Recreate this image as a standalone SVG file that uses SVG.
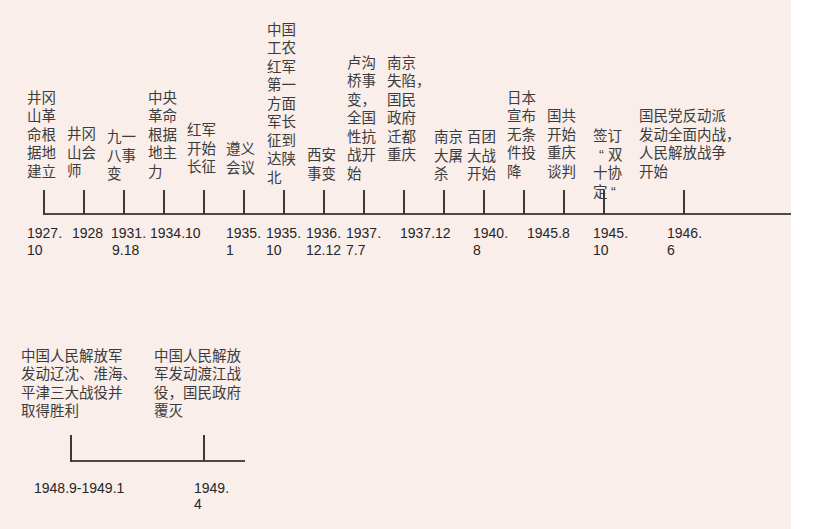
<svg xmlns="http://www.w3.org/2000/svg" width="820" height="529" viewBox="0 0 820 529">
<style>
.bg{fill:#f9eeea}
.lbl{font-family:"Liberation Sans","Noto Sans CJK SC","Noto Sans CJK TC",sans-serif;font-size:14.5px;fill:#3c3c3c}
.dt{font-family:"Liberation Sans",Arial,sans-serif;font-size:14px;fill:#262626}
.tick{stroke:#3a3a3a;stroke-width:2;fill:none}
.axis{stroke:#4a4a4a;stroke-width:2;fill:none}
</style>
<rect x="0" y="0" width="820" height="529" fill="#ffffff"/>
<rect class="bg" x="0" y="0" width="791" height="529"/>

<g id="connectors">
<line class="axis" x1="43" y1="214" x2="791" y2="214"/>
<line class="axis" x1="70" y1="461" x2="245" y2="461"/>
</g>

<g id="e1927">
<text class="lbl"><tspan x="27" y="102.5">井冈</tspan><tspan x="27" y="121">山革</tspan><tspan x="27" y="139.5">命根</tspan><tspan x="27" y="158">据地</tspan><tspan x="27" y="176.5">建立</tspan></text>
<line class="tick" x1="44" y1="190" x2="44" y2="215"/>
<text class="dt"><tspan x="27" y="238">1927.</tspan><tspan x="27" y="255">10</tspan></text>
</g>
<g id="e1928">
<text class="lbl"><tspan x="67" y="139">井冈</tspan><tspan x="67" y="157.5">山会</tspan><tspan x="67" y="176">师</tspan></text>
<line class="tick" x1="84" y1="190" x2="84" y2="214"/>
<text class="dt"><tspan x="72" y="238">1928</tspan></text>
</g>
<g id="e1931">
<text class="lbl"><tspan x="107" y="142">九一</tspan><tspan x="107" y="160.5">八事</tspan><tspan x="107" y="179">变</tspan></text>
<line class="tick" x1="124" y1="190" x2="124" y2="214"/>
<text class="dt"><tspan x="111" y="238">1931.</tspan><tspan x="112" y="255">9.18</tspan></text>
</g>
<g id="e1934">
<text class="lbl"><tspan x="148" y="102.5">中央</tspan><tspan x="148" y="121">革命</tspan><tspan x="148" y="139.5">根据</tspan><tspan x="148" y="158">地主</tspan><tspan x="148" y="176.5">力</tspan></text>
<line class="tick" x1="164" y1="190" x2="164" y2="214"/>
<text class="dt"><tspan x="150" y="238">1934.10</tspan></text>
</g>
<g id="e1934b">
<text class="lbl"><tspan x="187" y="135">红军</tspan><tspan x="187" y="153.5">开始</tspan><tspan x="187" y="172">长征</tspan></text>
<line class="tick" x1="204" y1="190" x2="204" y2="214"/>
</g>
<g id="e1935a">
<text class="lbl"><tspan x="226" y="154">遵义</tspan><tspan x="226" y="172.5">会议</tspan></text>
<line class="tick" x1="244" y1="190" x2="244" y2="214"/>
<text class="dt"><tspan x="226" y="238">1935.</tspan><tspan x="226" y="255">1</tspan></text>
</g>
<g id="e1935b">
<text class="lbl"><tspan x="267" y="34.5">中国</tspan><tspan x="267" y="53">工农</tspan><tspan x="267" y="71.5">红军</tspan><tspan x="267" y="90">第一</tspan><tspan x="267" y="108.5">方面</tspan><tspan x="267" y="127">军长</tspan><tspan x="267" y="145.5">征到</tspan><tspan x="267" y="164">达陕</tspan><tspan x="267" y="182.5">北</tspan></text>
<line class="tick" x1="284" y1="190" x2="284" y2="214"/>
<text class="dt"><tspan x="266" y="238">1935.</tspan><tspan x="266" y="255">10</tspan></text>
</g>
<g id="e1936">
<text class="lbl"><tspan x="307" y="160">西安</tspan><tspan x="307" y="178.5">事变</tspan></text>
<line class="tick" x1="324" y1="190" x2="324" y2="214"/>
<text class="dt"><tspan x="306" y="238">1936.</tspan><tspan x="306" y="255">12.12</tspan></text>
</g>
<g id="e1937a">
<text class="lbl"><tspan x="347" y="67.5">卢沟</tspan><tspan x="347" y="86">桥事</tspan><tspan x="347" y="104.5">变，</tspan><tspan x="347" y="123">全国</tspan><tspan x="347" y="141.5">性抗</tspan><tspan x="347" y="160">战开</tspan><tspan x="347" y="178.5">始</tspan></text>
<line class="tick" x1="364" y1="190" x2="364" y2="214"/>
<text class="dt"><tspan x="346" y="238">1937.</tspan><tspan x="346" y="255">7.7</tspan></text>
</g>
<g id="e1937b">
<text class="lbl"><tspan x="387" y="67.5">南京</tspan><tspan x="387" y="86">失陷，</tspan><tspan x="387" y="104.5">国民</tspan><tspan x="387" y="123">政府</tspan><tspan x="387" y="141.5">迁都</tspan><tspan x="387" y="160">重庆</tspan></text>
<line class="tick" x1="404" y1="190" x2="404" y2="214"/>
<text class="dt"><tspan x="400" y="238">1937.12</tspan></text>
</g>
<g id="e1937c">
<text class="lbl"><tspan x="434" y="142">南京</tspan><tspan x="434" y="160.5">大屠</tspan><tspan x="434" y="179">杀</tspan></text>
<line class="tick" x1="444" y1="190" x2="444" y2="214"/>
</g>
<g id="e1940">
<text class="lbl"><tspan x="467" y="142">百团</tspan><tspan x="467" y="160.5">大战</tspan><tspan x="467" y="179">开始</tspan></text>
<line class="tick" x1="484" y1="190" x2="484" y2="214"/>
<text class="dt"><tspan x="473" y="238">1940.</tspan><tspan x="473" y="255">8</tspan></text>
</g>
<g id="e1945a">
<text class="lbl"><tspan x="507" y="102.5">日本</tspan><tspan x="507" y="121">宣布</tspan><tspan x="507" y="139.5">无条</tspan><tspan x="507" y="158">件投</tspan><tspan x="507" y="176.5">降</tspan></text>
<line class="tick" x1="524" y1="190" x2="524" y2="214"/>
<text class="dt"><tspan x="527" y="238">1945.8</tspan></text>
</g>
<g id="e1945b">
<text class="lbl"><tspan x="547" y="121">国共</tspan><tspan x="547" y="139.5">开始</tspan><tspan x="547" y="158">重庆</tspan><tspan x="547" y="176.5">谈判</tspan></text>
<line class="tick" x1="564" y1="190" x2="564" y2="214"/>
</g>
<g id="e1945c">
<text class="lbl"><tspan x="593" y="141">签订</tspan><tspan x="599" y="159.5">“</tspan><tspan x="608" y="159.5">双</tspan><tspan x="593" y="178">十协</tspan><tspan x="593" y="196.5">定</tspan><tspan x="611" y="196.5">“</tspan></text>
<line class="tick" x1="604" y1="190" x2="604" y2="214"/>
<text class="dt"><tspan x="593" y="238">1945.</tspan><tspan x="593" y="255">10</tspan></text>
</g>
<g id="e1946">
<text class="lbl"><tspan x="639" y="121">国民党反动派</tspan><tspan x="639" y="139.5">发动全面内战，</tspan><tspan x="639" y="158">人民解放战争</tspan><tspan x="639" y="176.5">开始</tspan></text>
<line class="tick" x1="684" y1="190" x2="684" y2="214"/>
<text class="dt"><tspan x="667" y="238">1946.</tspan><tspan x="667" y="255">6</tspan></text>
</g>

<g id="e1948">
<text class="lbl"><tspan x="21" y="360.5">中国人民解放军</tspan><tspan x="21" y="379">发动辽沈、淮海、</tspan><tspan x="21" y="397.5">平津三大战役并</tspan><tspan x="21" y="416">取得胜利</tspan></text>
<line class="tick" x1="71" y1="435" x2="71" y2="462"/>
<text class="dt"><tspan x="34" y="493">1948.9-1949.1</tspan></text>
</g>
<g id="e1949">
<text class="lbl"><tspan x="154" y="360.5">中国人民解放</tspan><tspan x="154" y="379">军发动渡江战</tspan><tspan x="154" y="397.5">役，国民政府</tspan><tspan x="154" y="416">覆灭</tspan></text>
<line class="tick" x1="204" y1="435" x2="204" y2="461"/>
<text class="dt"><tspan x="194" y="493">1949.</tspan><tspan x="194" y="509">4</tspan></text>
</g>
</svg>
